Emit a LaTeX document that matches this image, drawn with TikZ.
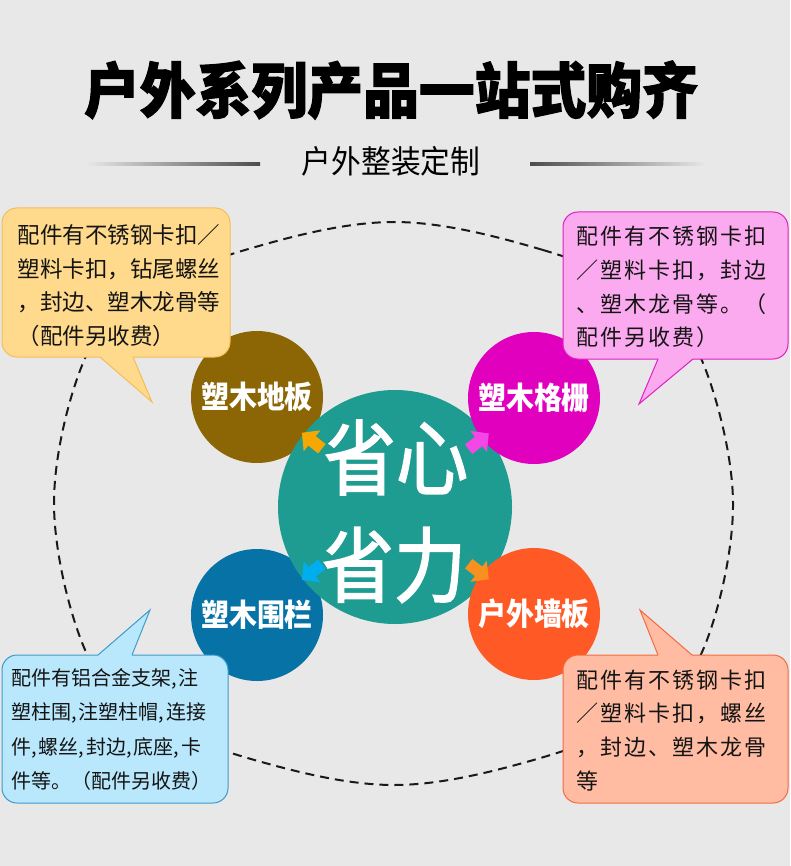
\documentclass[tikz,border=0pt]{standalone}
\usepackage{fontspec}
\usepackage{graphicx}
\setmainfont{Noto Sans CJK SC}
\newfontfamily\cjk{Noto Sans CJK SC}
\newfontfamily\cjkls[LetterSpace=9]{Noto Sans CJK SC}
\newfontfamily\cjkheavy[BoldFeatures={FakeBold=2}]{Noto Sans CJK SC}
\newfontfamily\cjkmed[FakeBold=2]{Noto Sans CJK SC}
\newcommand\cmk{,\kern2pt}
\usetikzlibrary{calc,arrows.meta}
\definecolor{bg}{HTML}{E8E8E8}
\definecolor{cy1}{HTML}{FFDA8C}
\definecolor{cy2}{HTML}{F2BE5A}
\definecolor{cp1}{HTML}{FCAAF0}
\definecolor{cp2}{HTML}{E020C0}
\definecolor{cb1}{HTML}{B9E8FC}
\definecolor{cb2}{HTML}{3B9BCB}
\definecolor{cs1}{HTML}{FFBCA3}
\definecolor{cs2}{HTML}{F46A3E}
\definecolor{ctl}{HTML}{8C6504}
\definecolor{ctr}{HTML}{E000BE}
\definecolor{cbl}{HTML}{0672A6}
\definecolor{cbr}{HTML}{FF5A26}
\definecolor{cmid}{HTML}{1E9C91}
\definecolor{atl}{HTML}{F7A800}
\definecolor{atr}{HTML}{F546E6}
\definecolor{abl}{HTML}{00AEEF}
\definecolor{abr}{HTML}{F7901E}
\begin{document}
\begin{tikzpicture}[x=1pt,y=-1pt,
  callout/.style={rectangle, rounded corners=15pt, line width=1pt, inner sep=0pt},
  ctext/.style={anchor=base west, inner sep=0pt, text=black!92},
  bubble/.style={circle, minimum size=132pt, inner sep=0pt, text=white,
    font=\cjk\bfseries\fontsize{31}{31}\selectfont},
  bigtext/.style={inner sep=0pt, text=white, font=\cjkmed\fontsize{82}{82}\selectfont},
  marker/.style={line width=12pt, -{Triangle[length=13pt,width=26pt]}},
  dashring/.style={draw=black!90, dash pattern=on 9pt off 6pt, line width=2pt},
  tailline/.style={line width=1pt},
]
\useasboundingbox (0,0) rectangle (790,866);
\fill[bg] (0,0) rectangle (790,866);

% dashed ring
\draw[dashring] plot[smooth cycle, tension=0.6] coordinates {(394,222) (543,250) (649,297) (703,363) (733,503) (705,645) (649,712) (537,759) (394,785) (251,759) (139,712) (83,645) (54,503) (83,363) (139,297) (245,250)};

% title and subtitle
\node[anchor=base, inner sep=0pt, font=\cjkheavy\bfseries\fontsize{60}{60}\selectfont] (title) at (391,112.8) {\scalebox{0.93}[1]{户外系列产品一站式购齐}};
\node[anchor=base, inner sep=0pt, font=\cjk\fontsize{32}{32}\selectfont] (sub) at (391,173.5) {\scalebox{0.93}[1]{户外整装定制}};
\shade[left color=bg, right color=black!70] (86,163) rectangle (260,165.5);
\shade[left color=black!70, right color=bg] (530,163) rectangle (706,165.5);

% circles
\node[bubble, fill=ctl] (tl) at (257,397) {\scalebox{0.9}[1]{塑木地板}};
\node[bubble, fill=cbl] (bl) at (257,615) {\scalebox{0.9}[1]{塑木围栏}};
\node[circle, minimum size=234pt, inner sep=0pt, fill=cmid] (mid) at (395,507) {};
\node[bubble, fill=ctr] (tr) at (534,398) {\scalebox{0.9}[1]{塑木格栅}};
\node[bubble, fill=cbr] (br) at (534,614) {\scalebox{0.9}[1]{户外墙板}};
\node[bigtext] (t1) at (396,457.5) {\scalebox{0.88}[1]{省心}};
\node[bigtext] (t2) at (394,565) {\scalebox{0.88}[1]{省力}};

% arrows from centre to circles
\draw[marker, color=atl] ($(mid)!0.53!(tl)$) -- ($(mid)!0.675!(tl)$);
\draw[marker, color=atr] ($(mid)!0.53!(tr)$) -- ($(mid)!0.675!(tr)$);
\draw[marker, color=abl] ($(mid)!0.53!(bl)$) -- ($(mid)!0.675!(bl)$);
\draw[marker, color=abr] ($(mid)!0.53!(br)$) -- ($(mid)!0.675!(br)$);

% yellow callout
\node[callout, fill=cy1, draw=cy2, minimum width=228pt, minimum height=149pt] (cy) at (116,282.5) {};
\coordinate (cytip) at (152,402);
\fill[cy1] (100,353) -- (100,357) -- (cytip) -- (133,357) -- (133,353) -- cycle;
\draw[tailline, cy2] (100,357) -- (cytip) -- (133,357);
\foreach \s [count=\i from 0] in {配件有不锈钢卡扣／,塑料卡扣，钻尾螺丝,，封边、塑木龙骨等,（配件另收费）}
  \node[ctext, font=\cjk\fontsize{22.5}{22.5}\selectfont] (cy-\i) at (17.5,{243.5+33.7*\i}) {\s};

% pink callout
\node[callout, fill=cp1, draw=cp2, minimum width=225pt, minimum height=147pt] (cp) at (675.5,285.5) {};
\coordinate (cptip) at (639,404);
\fill[cp1] (658,355) -- (658,359) -- (cptip) -- (693,359) -- (693,355) -- cycle;
\draw[tailline, cp2] (658,359) -- (cptip) -- (693,359);
\foreach \s [count=\i from 0] in {配件有不锈钢卡扣,／塑料卡扣，封边,、塑木龙骨等。（,配件另收费）}
  \node[ctext, font=\cjkls\fontsize{22}{22}\selectfont] (cp-\i) at (576,{244.2+33.9*\i}) {\s};

% blue callout
\node[callout, fill=cb1, draw=cb2, minimum width=226pt, minimum height=148pt] (cb) at (115,729) {};
\coordinate (cbtip) at (150,610);
\fill[cb1] (98,659) -- (98,655) -- (cbtip) -- (132,655) -- (132,659) -- cycle;
\draw[tailline, cb2] (98,655) -- (cbtip) -- (132,655);
\foreach \s [count=\i from 0] in {配件有铝合金支架\cmk 注,塑柱围\cmk 注塑柱帽\cmk 连接,件\cmk 螺丝\cmk 封边\cmk 底座\cmk 卡,件等。（配件另收费）}
  \node[ctext, font=\cjk\fontsize{20}{20}\selectfont] (cb-\i) at (11,{685+34.5*\i}) {\s};

% salmon callout
\node[callout, fill=cs1, draw=cs2, minimum width=225pt, minimum height=148pt] (cs) at (675.5,729) {};
\coordinate (cstip) at (640,610);
\fill[cs1] (658,659) -- (658,655) -- (cstip) -- (692,655) -- (692,659) -- cycle;
\draw[tailline, cs2] (658,655) -- (cstip) -- (692,655);
\foreach \s [count=\i from 0] in {配件有不锈钢卡扣,／塑料卡扣，螺丝,，封边、塑木龙骨,等}
  \node[ctext, font=\cjkls\fontsize{22}{22}\selectfont] (cs-\i) at (576,{688+33.8*\i}) {\s};
\end{tikzpicture}
\end{document}
